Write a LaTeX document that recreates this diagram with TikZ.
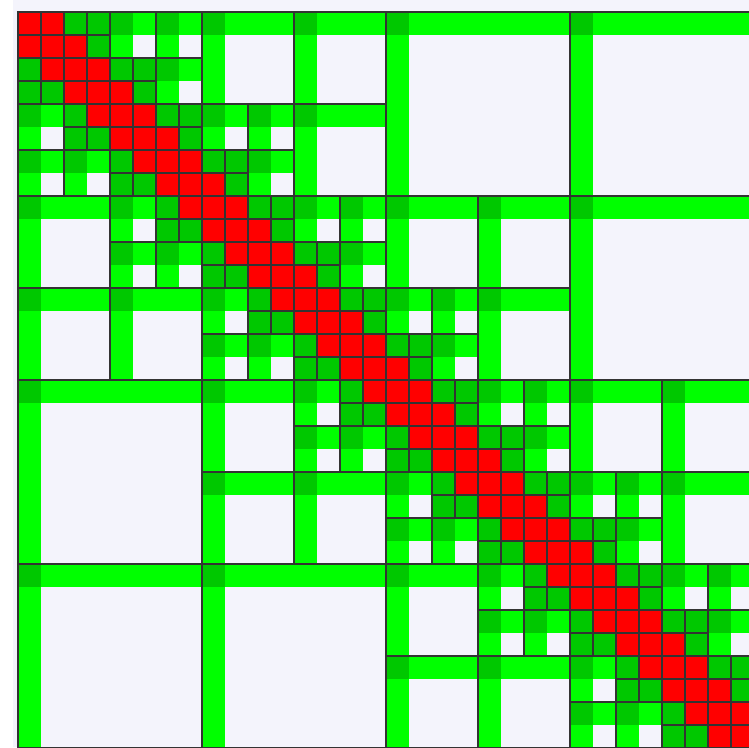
\documentclass[tikz,border=0pt]{standalone}
\usepackage{tikz}
\usetikzlibrary{calc}

\definecolor{densered}{RGB}{255,0,0}
\definecolor{lrband}{RGB}{0,255,0}
\definecolor{lrcore}{RGB}{0,200,0}
\definecolor{lrempty}{RGB}{244,244,252}

% blocco a basso rango: colonna, riga, dimensione
\newcommand{\lrblock}[3]{%
  \fill[lrempty] (#1,#2) rectangle ++(#3,#3);
  \fill[lrband] (#1,#2) rectangle ++(#3,1);
  \fill[lrband] (#1,#2) rectangle ++(1,#3);
  \fill[lrcore] (#1,#2) rectangle ++(1,1);
  \draw[blockline] (#1,#2) rectangle ++(#3,#3);
}

\begin{document}
\begin{tikzpicture}[x=0.69cm, y=-0.69cm,
    blockline/.style={draw=black!80, line width=1.9pt}]
	% --- Sfondo ---
	\useasboundingbox (-18/23,-12/23) rectangle (731/23,735/23);
	\clip (-18/23,-12/23) rectangle (731/23,735/23);
	\fill[white] (-18/23,-12/23) rectangle (731/23,735/23);
	\fill[lrempty] (-5/23,-12/23) rectangle (731/23,735/23);

	% --- Blocchi a basso rango ---
	\foreach \s in {8,4,2}{
		\pgfmathtruncatemacro{\n}{32/\s-1}
		\foreach \I in {0,...,\n}{
			\foreach \J in {0,...,\n}{
				\pgfmathtruncatemacro{\dist}{abs(\I-\J)}
				\pgfmathtruncatemacro{\pdist}{abs(floor(\I/2)-floor(\J/2))}
				\ifnum\dist>1 \ifnum\pdist<2
					\lrblock{\J*\s}{\I*\s}{\s}
				\fi\fi
			}
		}
	}

	% --- Foglie 1x1: dense e basso rango ---
	\foreach \i in {0,...,31}{
		\foreach \j in {0,...,31}{
			\pgfmathtruncatemacro{\dist}{abs(\i-\j)}
			\pgfmathtruncatemacro{\pdist}{abs(floor(\i/2)-floor(\j/2))}
			\ifnum\pdist<2
				\ifnum\dist<2
					\fill[densered] (\j,\i) rectangle ++(1,1);
				\else
					\fill[lrcore] (\j,\i) rectangle ++(1,1);
				\fi
				\draw[blockline] (\j,\i) rectangle ++(1,1);
			\fi
		}
	}
\end{tikzpicture}
\end{document}
